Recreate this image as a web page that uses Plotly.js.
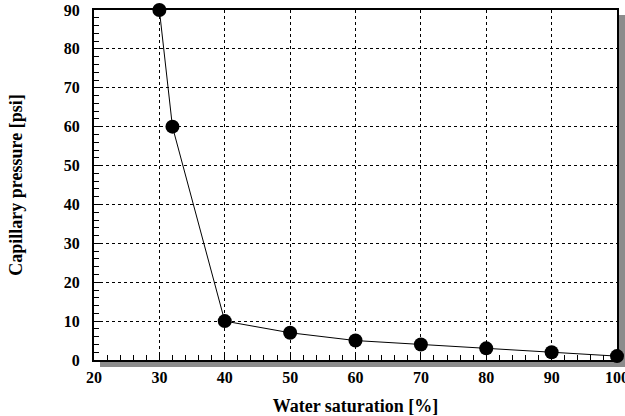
<!DOCTYPE html>
<html>
<head>
<meta charset="utf-8">
<script src="https://cdn.plot.ly/plotly-3.0.1.min.js"></script>
<style>html,body{margin:0;padding:0;background:#fff;}#chart{width:625px;height:416px;}</style>
</head>
<body>
<div id="chart"></div>
<script>
const waterSaturation = [30, 32, 40, 50, 60, 70, 80, 90, 100];
const capillaryPressure = [90, 60, 10, 7, 5, 4, 3, 2, 1];
const xTicks = [20, 30, 40, 50, 60, 70, 80, 90, 100];
const yTicks = [0, 10, 20, 30, 40, 50, 60, 70, 80, 90];

const fontFam = 'Liberation Serif';
const W = 523, H = 350;

const trace = {
  x: waterSaturation,
  y: capillaryPressure,
  mode: 'lines+markers',
  line: {color: '#000', width: 1},
  marker: {color: '#000', size: 14},
  cliponaxis: false,
  showlegend: false
};

const axisCommon = {
  showline: true, mirror: true, linecolor: '#000', linewidth: 2,
  showgrid: true, gridcolor: '#000', gridwidth: 1, griddash: '3px,3px',
  zeroline: false,
  ticks: 'inside', ticklen: 6, tickcolor: '#000', tickwidth: 1,
  minor: {dtick: 2, ticks: 'inside', ticklen: 5, tickcolor: '#000', tickwidth: 1, showgrid: false},
  tickfont: {family: fontFam, size: 16, color: '#000', weight: 700},
  ticklabeloverflow: 'allow'
};

const layout = {
  width: 625, height: 416,
  margin: {l: 94, r: 8, t: 10, b: 56},
  paper_bgcolor: '#fff', plot_bgcolor: '#fff',
  xaxis: Object.assign({}, axisCommon, {
    range: [20, 100], tickmode: 'array', tickvals: xTicks, ticktext: xTicks.map(String),
    ticklabelstandoff: 2,
    title: {text: 'Water saturation [%]', standoff: 14,
      font: {family: fontFam, size: 18, color: '#000', weight: 700}}
  }),
  yaxis: Object.assign({}, axisCommon, {
    range: [0, 90], tickmode: 'array', tickvals: yTicks, ticktext: yTicks.map(String),
    ticklabelstandoff: 9,
    title: {text: 'Capillary pressure [psi]', standoff: 36,
      font: {family: fontFam, size: 18, color: '#000', weight: 700}}
  }),
  shapes: [
    {type: 'rect', xref: 'paper', yref: 'paper', x0: 1 + 2/W, x1: 1 + 8/W, y0: -6/H, y1: 1 - 5/H,
      fillcolor: '#8c8c8c', line: {width: 0}, layer: 'below'},
    {type: 'rect', xref: 'paper', yref: 'paper', x0: 6/W, x1: 1 + 8/W, y0: -7/H, y1: -1/H,
      fillcolor: '#8c8c8c', line: {width: 0}, layer: 'below'}
  ]
};

Plotly.newPlot('chart', [trace], layout, {displayModeBar: false, staticPlot: true});
</script>
</body>
</html>
